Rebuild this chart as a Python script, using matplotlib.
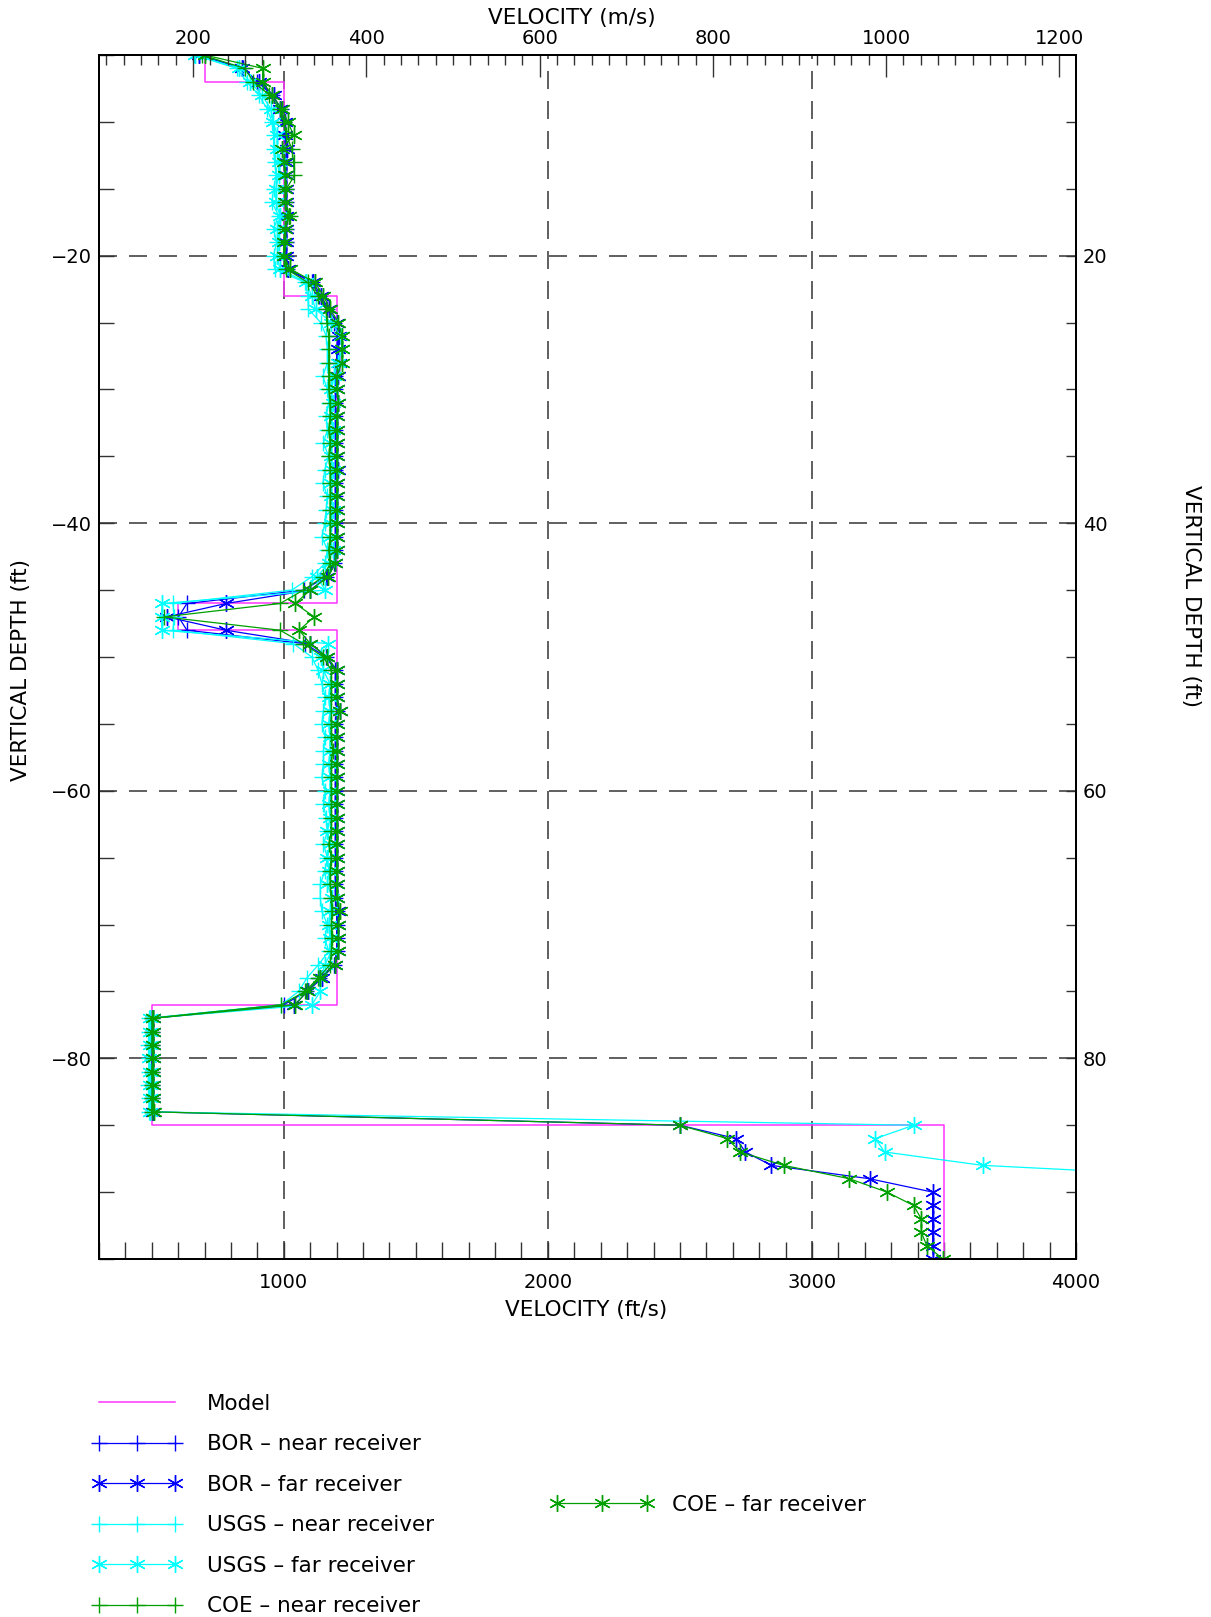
import numpy as np
import matplotlib
matplotlib.use("Agg")
import matplotlib.pyplot as plt
from matplotlib.ticker import MultipleLocator, FixedLocator

plt.rcParams['font.family'] = ['DejaVu Sans']

# ---------------------------------------------------------------- data
# Layered velocity model (ft/s) with layer tops/bottoms (ft)
model_top = [-5, -7, -23, -46, -48, -76, -85]
model_bottom = [-7, -23, -46, -48, -76, -85, -95]
model_vel = [700, 1000, 1200, 600, 1200, 500, 3500]

depth_near = np.arange(-5, -85, -1)      # -5 .. -84 ft
depth_far = np.arange(-5, -96, -1)       # -5 .. -95 ft
depth_usgs_far = np.arange(-5, -90, -1)  # -5 .. -89 ft

coe_far = [
    700, 920, 920, 955, 992, 1015, 1037, 992, 999, 1005,
    1005, 1005, 1018, 1005, 999, 999, 1024, 1118, 1150, 1175,
    1207, 1220, 1220, 1220, 1200, 1200, 1207, 1200, 1200, 1200,
    1200, 1200, 1200, 1200, 1200, 1200, 1200, 1200, 1194, 1169,
    1100, 1043, 1115, 1058, 1100, 1163, 1201, 1201, 1201, 1211,
    1201, 1201, 1201, 1201, 1201, 1201, 1201, 1201, 1200, 1200,
    1200, 1200, 1200, 1200, 1213, 1207, 1207, 1207, 1194, 1138,
    1087, 1043, 506, 504, 505, 506, 504, 505, 506, 507,
    2500, 2680, 2728, 2893, 3142, 3284, 3385, 3414, 3414, 3435, 3496,
]
coe_near = [
    690, 852, 885, 945, 985, 1000, 1010, 1030, 1037, 1040,
    1010, 1005, 1022, 1005, 1005, 1000, 1010, 1090, 1130, 1160,
    1163, 1170, 1170, 1170, 1170, 1170, 1175, 1175, 1170, 1175,
    1170, 1175, 1175, 1175, 1175, 1175, 1175, 1170, 1175, 1150,
    1074, 986, 547, 986, 1074, 1150, 1180, 1180, 1180, 1180,
    1180, 1180, 1185, 1180, 1180, 1180, 1180, 1180, 1180, 1170,
    1180, 1175, 1175, 1180, 1182, 1180, 1182, 1180, 1175, 1130,
    1080, 990, 500, 502, 500, 503, 500, 502, 501, 500,
]
bor_far = [
    680, 840, 905, 961, 985, 1005, 1003, 1011, 1010, 1008,
    1010, 1010, 1010, 1010, 1010, 1010, 1015, 1112, 1140, 1170,
    1200, 1210, 1205, 1210, 1205, 1200, 1205, 1200, 1200, 1200,
    1200, 1205, 1200, 1200, 1200, 1200, 1200, 1200, 1195, 1165,
    1100, 781, 557, 781, 1100, 1165, 1200, 1200, 1200, 1211,
    1200, 1200, 1200, 1200, 1200, 1200, 1200, 1200, 1200, 1200,
    1200, 1200, 1200, 1200, 1207, 1205, 1205, 1205, 1194, 1144,
    1090, 1040, 505, 503, 505, 505, 503, 505, 504, 505,
    2500, 2713, 2748, 2846, 3218, 3457, 3457, 3457, 3457, 3457, 3460,
]
bor_near = [
    680, 845, 900, 955, 990, 1000, 1005, 1010, 1008, 1010,
    1008, 1010, 1012, 1008, 1010, 1008, 1012, 1105, 1135, 1165,
    1190, 1205, 1200, 1200, 1195, 1195, 1195, 1195, 1195, 1195,
    1195, 1195, 1195, 1195, 1195, 1195, 1195, 1195, 1190, 1160,
    1075, 633, 601, 633, 1080, 1160, 1195, 1195, 1195, 1200,
    1195, 1195, 1195, 1195, 1195, 1195, 1195, 1195, 1195, 1195,
    1195, 1195, 1195, 1195, 1200, 1200, 1200, 1200, 1190, 1135,
    1085, 1000, 500, 500, 502, 500, 501, 500, 502, 500,
]
usgs_far = [
    665, 830, 872, 917, 950, 960, 975, 975, 980, 980,
    970, 970, 985, 975, 980, 975, 985, 1085, 1105, 1120,
    1180, 1215, 1220, 1205, 1190, 1180, 1185, 1180, 1185, 1180,
    1180, 1185, 1180, 1180, 1185, 1180, 1175, 1185, 1170, 1125,
    1157, 538, 538, 538, 1169, 1140, 1150, 1175, 1170, 1175,
    1170, 1175, 1175, 1170, 1175, 1175, 1170, 1175, 1165, 1175,
    1165, 1170, 1165, 1183, 1175, 1170, 1175, 1180, 1156, 1138,
    1138, 1106, 495, 492, 495, 490, 494, 492, 495, 493,
    3385, 3240, 3275, 3646, 4650,
]
usgs_near = [
    660, 822, 860, 905, 936, 955, 961, 961, 965, 971,
    961, 955, 980, 961, 973, 961, 965, 1080, 1091, 1093,
    1140, 1160, 1165, 1165, 1148, 1165, 1170, 1160, 1165, 1150,
    1170, 1155, 1148, 1165, 1160, 1155, 1144, 1165, 1156, 1106,
    1030, 580, 585, 580, 1036, 1106, 1130, 1144, 1157, 1150,
    1144, 1157, 1150, 1150, 1144, 1157, 1150, 1160, 1165, 1150,
    1165, 1155, 1138, 1138, 1144, 1165, 1155, 1170, 1131, 1087,
    1056, 990, 488, 490, 486, 490, 488, 486, 490, 488,
]

labels = ["Model", "BOR – near receiver", "BOR – far receiver",
          "USGS – near receiver", "USGS – far receiver",
          "COE – near receiver", "COE – far receiver"]

# axis ranges and tick values
x_range = (300, 4000)          # ft/s
y_range = (-95, -5)            # ft
ms_per_fts = 0.3048
top_major = [200, 400, 600, 800, 1000, 1200]   # m/s
right_major = [20, 40, 60, 80]                 # ft

# ---------------------------------------------------------------- styles
C_MODEL = "#ff33ff"
C_BOR = "#0000ff"
C_USGS = "#00ffff"
C_COE = "#00a000"
STAR = (6, 2, 0)
FS = 15.5
TFS = 14

W, H = 1211, 1617
fig = plt.figure(figsize=(W / 100, H / 100), dpi=100)
L, R, T, B = 99, 1076, 55, 1259
ax = fig.add_axes([L / W, 1 - B / H, (R - L) / W, (B - T) / H])
ax.set_xlim(*x_range)
ax.set_ylim(*y_range)

# model as a staircase through the layer boundaries
mx = np.repeat(model_vel, 2)
my = np.column_stack([model_top, model_bottom]).ravel()
h_model, = ax.plot(mx, my, color=C_MODEL, lw=1.1, zorder=3)

common = dict(lw=0.9, markeredgewidth=1.0, zorder=4)
h_bn, = ax.plot(bor_near, depth_near, color=C_BOR, marker="+", ms=11, **common)
h_bf, = ax.plot(bor_far, depth_far, color=C_BOR, marker=STAR, ms=12, **common)
h_un, = ax.plot(usgs_near, depth_near, color=C_USGS, marker="+", ms=11, **common)
h_uf, = ax.plot(usgs_far, depth_usgs_far, color=C_USGS, marker=STAR, ms=12, **common)
h_cn, = ax.plot(coe_near, depth_near, color=C_COE, marker="+", ms=11, **common)
h_cf, = ax.plot(coe_far, depth_far, color=C_COE, marker=STAR, ms=12, **common)

# ---------------------------------------------------------------- axes
ax.xaxis.set_major_locator(MultipleLocator(1000))
ax.xaxis.set_minor_locator(MultipleLocator(100))
ax.yaxis.set_major_locator(MultipleLocator(20))
ax.yaxis.set_minor_locator(MultipleLocator(5))
ax.tick_params(which="both", direction="in", top=False, right=False,
               width=1.0, color="#333333", labelsize=TFS)
ax.tick_params(axis="x", which="both", length=12, pad=10)
ax.tick_params(axis="y", which="both", length=11, pad=5)
ax.grid(True, which="major", linestyle=(0, (10.8, 7.2)), color="#444444", lw=1.2)
for s in ax.spines.values():
    s.set_linewidth(1.3)

# top axis in m/s
axt = ax.twiny()
axt.set_xlim(x_range[0] * ms_per_fts, x_range[1] * ms_per_fts)
axt.xaxis.set_major_locator(FixedLocator(top_major))
axt.xaxis.set_minor_locator(FixedLocator(np.arange(100, 1220, 20)))
axt.tick_params(which="major", direction="in", length=16, width=1.0, color="#333333",
                labelsize=TFS, pad=5)
axt.tick_params(which="minor", direction="in", length=7, width=1.0, color="#333333")
axt.tick_params(axis="y", left=False, right=False, labelleft=False, labelright=False)

# right axis with positive depth
axr = ax.twinx()
axr.set_ylim(-y_range[0], -y_range[1])
axr.yaxis.set_major_locator(FixedLocator(right_major))
axr.yaxis.set_minor_locator(FixedLocator(np.arange(10, 95, 5)))
axr.tick_params(which="both", direction="in", length=7, width=1.0, color="#333333",
                labelsize=TFS, pad=5)
for a in (axt, axr):
    for s in a.spines.values():
        s.set_linewidth(1.3)

fig.text(586 / W, 1 - 1310 / H, "VELOCITY (ft/s)", ha="center", va="center", fontsize=FS)
fig.text(572 / W, 1 - 18 / H, "VELOCITY (m/s)", ha="center", va="center", fontsize=FS)
fig.text(21 / W, 1 - 670 / H, "VERTICAL DEPTH (ft)", ha="center", va="center",
         rotation=90, fontsize=FS)
fig.text(1191 / W, 1 - 596 / H, "VERTICAL DEPTH (ft)", ha="center", va="center",
         rotation=270, fontsize=FS)

# ---------------------------------------------------------------- legend
em = FS * 100 / 72          # font size in pixels
mpad = 0.3 * em             # inset of legend lines inside their handle box
fig.legend([h_model, h_bn, h_bf, h_un, h_uf, h_cn], labels[:6],
           loc="upper left", bbox_to_anchor=((99 - mpad) / W, 1 - 1394 / H),
           frameon=False, numpoints=3, fontsize=FS, borderpad=0, borderaxespad=0,
           handlelength=(76 + 2 * mpad) / em, handletextpad=(32 - mpad) / em,
           labelspacing=0.95)
fig.legend([h_cf], labels[6:],
           loc="upper left", bbox_to_anchor=((557 - mpad) / W, 1 - 1495 / H),
           frameon=False, numpoints=3, fontsize=FS, borderpad=0, borderaxespad=0,
           handlelength=(90 + 2 * mpad) / em, handletextpad=(25 - mpad) / em)

fig.savefig("out.png", dpi=100)
